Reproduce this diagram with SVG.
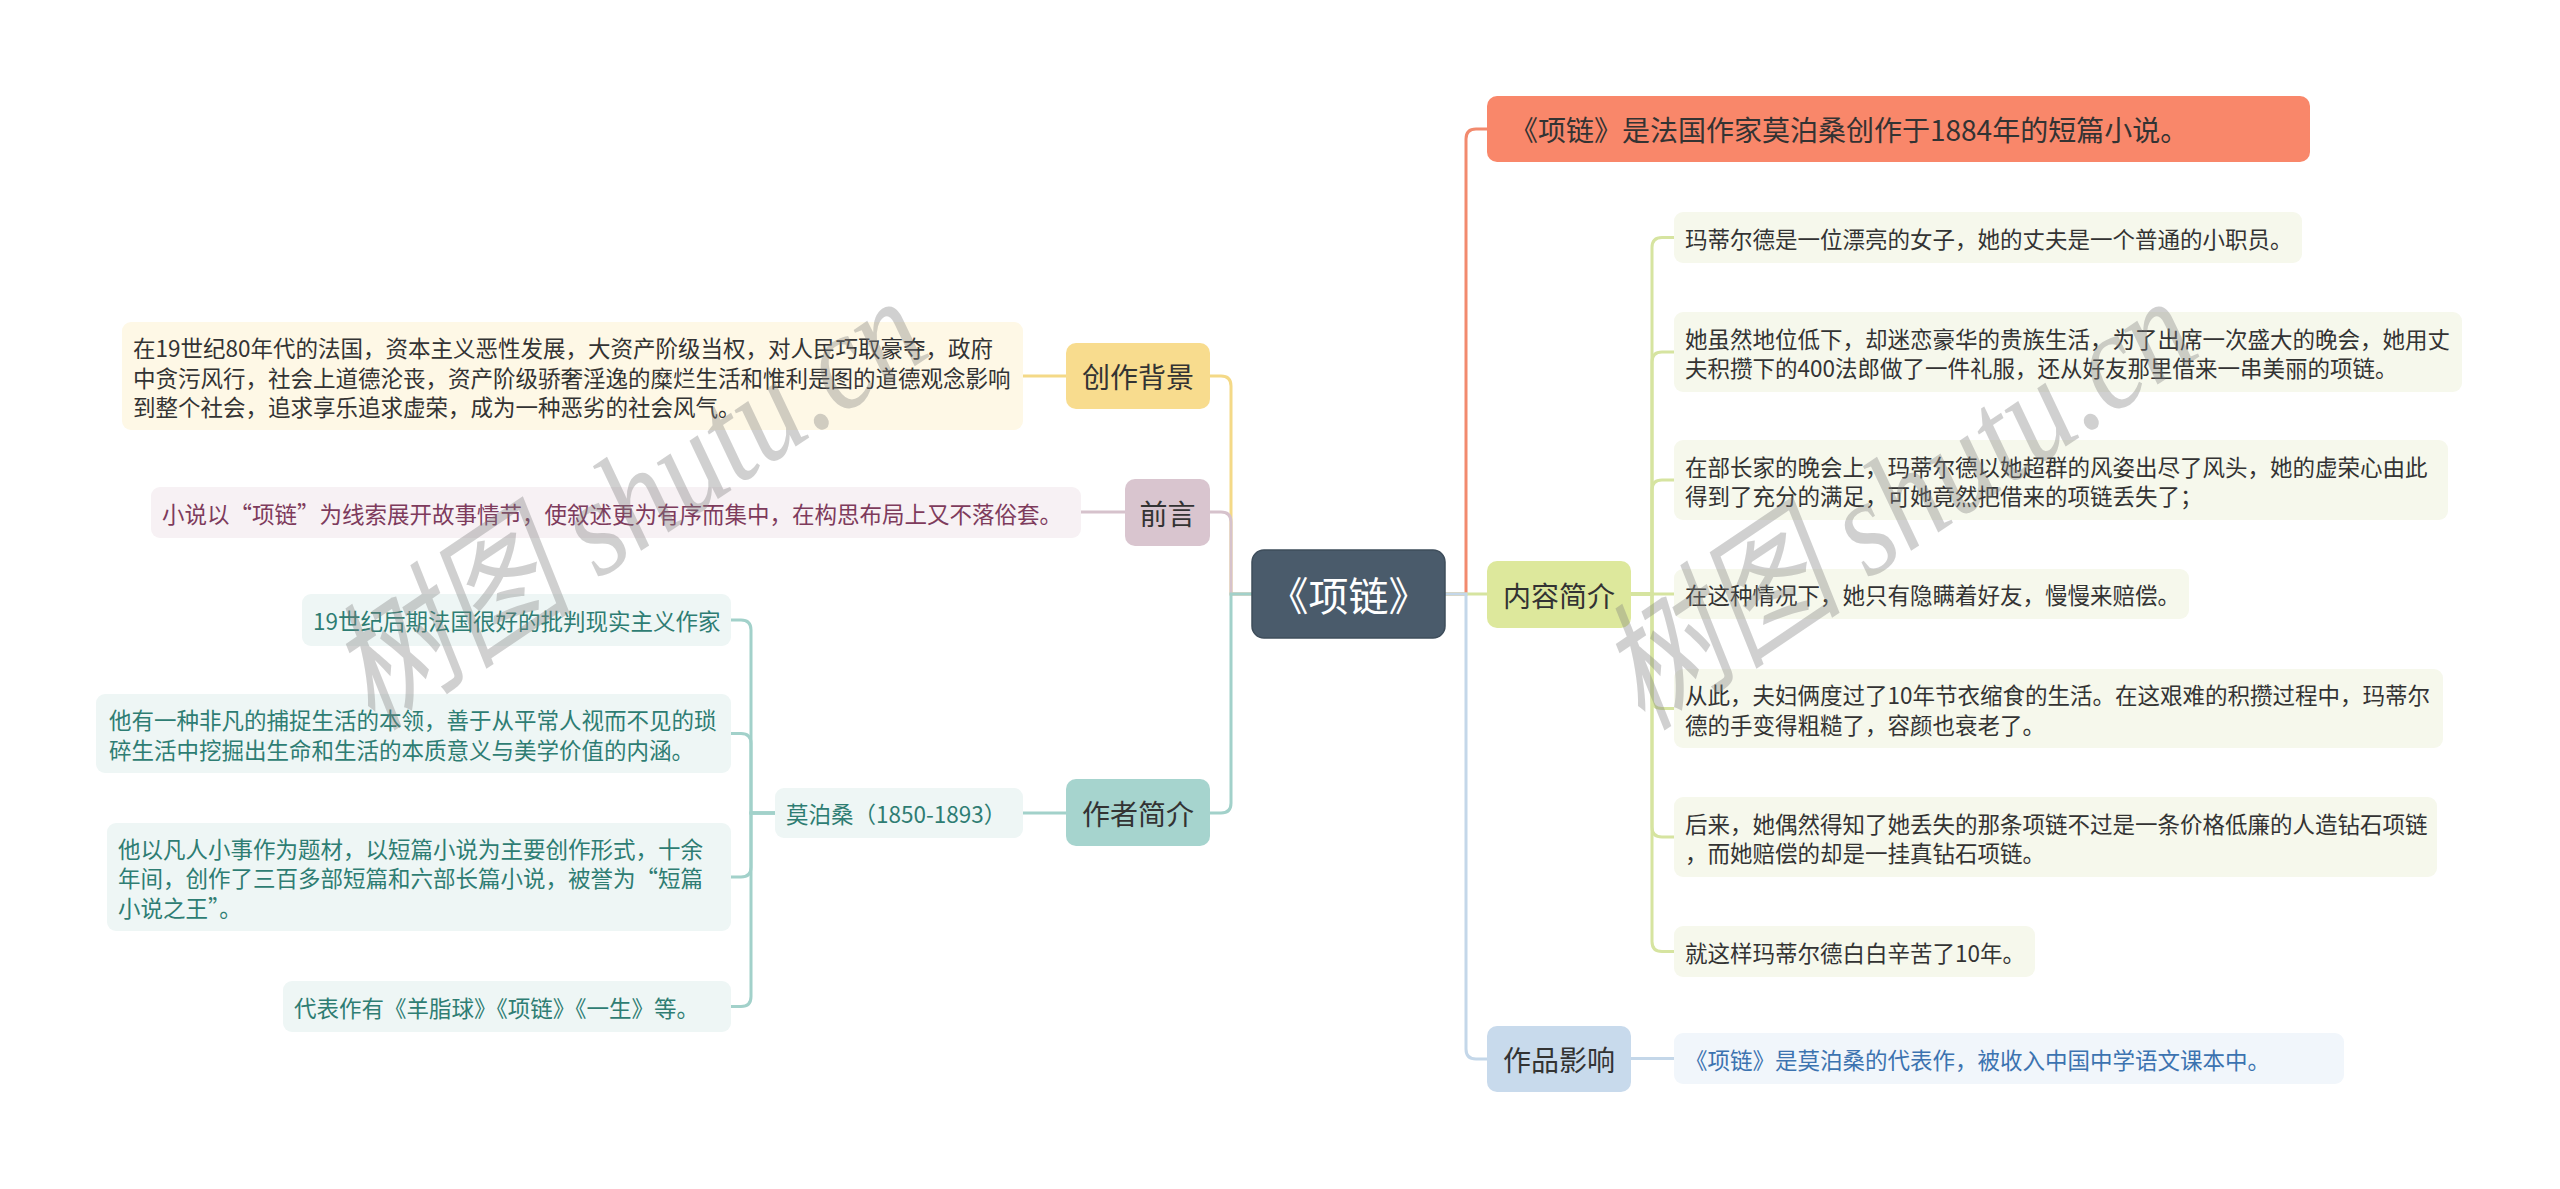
<svg xmlns="http://www.w3.org/2000/svg" width="2560" height="1189" viewBox="0 0 2560 1189">
<style>
  text { font-family: "Noto Sans CJK SC", "Noto Sans", sans-serif; dominant-baseline: central; }
  .root-t { font-size: 40px; fill: #ffffff; text-anchor: middle; }
  .l1 { font-size: 28px; fill: #333333; text-anchor: middle; }
  .l1s { font-size: 28px; fill: #333333; }
  .leaf { font-size: 22.5px; fill: #333333; }
  .t-pre { fill: #7e3b5c; }
  .t-aut { fill: #2e7d73; }
  .t-imp { fill: #3c73b0; }
  .conn path { fill: none; stroke-width: 3; stroke-linecap: round; }
  .c-yel { stroke: #f4d987; }
  .c-mau { stroke: #d6c2cc; }
  .c-tea { stroke: #a2d1ca; }
  .c-sal { stroke: #f28a6e; }
  .c-lim { stroke: #d6e4a0; }
  .c-blu { stroke: #c4d7e9; }
  .wm { font-family: "Liberation Serif", "Noto Sans CJK SC", serif; font-style: italic; font-size: 140px; fill: #808080; opacity: 0.36; dominant-baseline: alphabetic; }
</style>
<rect width="2560" height="1189" fill="#ffffff"/>

<g id="connectors" class="conn">
  <path class="c-yel" d="M1252 594 H1231 V386 Q1231 376 1221 376 H1210"/>
  <path class="c-mau" d="M1252 594 H1231 V522 Q1231 512 1221 512 H1210"/>
  <path class="c-tea" d="M1252 594 H1231 V803 Q1231 813 1221 813 H1210"/>
  <path class="c-sal" d="M1445 594 H1466 V139 Q1466 129 1476 129 H1487"/>
  <path class="c-lim" d="M1445 594 H1487"/>
  <path class="c-blu" d="M1445 594 H1466 V1049 Q1466 1059 1476 1059 H1487"/>
  <path class="c-yel" d="M1066 376 H1023"/>
  <path class="c-mau" d="M1125 512 H1081"/>
  <path class="c-tea" d="M1066 813 H1023"/>
  <path class="c-tea" d="M775 813 H751 V630 Q751 620 741 620 H731"/>
  <path class="c-tea" d="M775 813 H751 V743.5 Q751 733.5 741 733.5 H731"/>
  <path class="c-tea" d="M775 813 H751 V867 Q751 877 741 877 H731"/>
  <path class="c-tea" d="M775 813 H751 V996.5 Q751 1006.5 741 1006.5 H731"/>
  <path class="c-lim" d="M1630 594 H1652 V247.5 Q1652 237.5 1662 237.5 H1674"/>
  <path class="c-lim" d="M1630 594 H1652 V362 Q1652 352 1662 352 H1674"/>
  <path class="c-lim" d="M1630 594 H1652 V490 Q1652 480 1662 480 H1674"/>
  <path class="c-lim" d="M1630 594 H1674"/>
  <path class="c-lim" d="M1630 594 H1652 V698.5 Q1652 708.5 1662 708.5 H1674"/>
  <path class="c-lim" d="M1630 594 H1652 V827 Q1652 837 1662 837 H1674"/>
  <path class="c-lim" d="M1630 594 H1652 V941.5 Q1652 951.5 1662 951.5 H1674"/>
  <path class="c-blu" d="M1630 1058.5 H1674"/>
</g>

<g id="root">
  <rect x="1252" y="550" width="193" height="88" rx="12" fill="#4a5b6b" stroke="#3e4d5b" stroke-width="1.5"/>
  <text class="root-t" x="1348.5" y="594">《项链》</text>
</g>

<g id="node-chuangzuobeijing">
  <rect x="1066" y="343" width="144" height="66" rx="10" fill="#f8dc8e"/>
  <text class="l1" x="1138" y="376">创作背景</text>
</g>
<g id="node-qianyan">
  <rect x="1125" y="479" width="85" height="67" rx="10" fill="#d9c5cf"/>
  <text class="l1" x="1167.5" y="512.5">前言</text>
</g>
<g id="node-zuozhejianjie">
  <rect x="1066" y="779" width="144" height="67" rx="10" fill="#a6d4ce"/>
  <text class="l1" x="1138" y="812.5">作者简介</text>
</g>
<g id="node-summary">
  <rect x="1487" y="96" width="823" height="66" rx="10" fill="#f9876a"/>
  <text class="l1s" x="1510" y="129">《项链》是法国作家莫泊桑创作于1884年的短篇小说。</text>
</g>
<g id="node-neirongjianjie">
  <rect x="1487" y="561" width="144" height="67" rx="10" fill="#dde89c"/>
  <text class="l1" x="1559" y="594.5">内容简介</text>
</g>
<g id="node-zuopinyingxiang">
  <rect x="1487" y="1026" width="144" height="66" rx="10" fill="#c8daec"/>
  <text class="l1" x="1559" y="1059">作品影响</text>
</g>

<g id="leaf-beijing">
  <rect x="122" y="322" width="901" height="108" rx="9" fill="#fef8e6"/>
  <text class="leaf" x="133" y="347">在19世纪80年代的法国，资本主义恶性发展，大资产阶级当权，对人民巧取豪夺，政府</text>
  <text class="leaf" x="133" y="376.5">中贪污风行，社会上道德沦丧，资产阶级骄奢淫逸的糜烂生活和惟利是图的道德观念影响</text>
  <text class="leaf" x="133" y="406">到整个社会，追求享乐追求虚荣，成为一种恶劣的社会风气。</text>
</g>
<g id="leaf-qianyan">
  <rect x="151" y="487" width="930" height="51" rx="9" fill="#f7f1f4"/>
  <text class="leaf t-pre" x="162" y="512.5">小说以“项链”为线索展开故事情节，使叙述更为有序而集中，在构思布局上又不落俗套。</text>
</g>
<g id="leaf-mobosang">
  <rect x="775" y="788" width="248" height="50" rx="9" fill="#eef6f5"/>
  <text class="leaf t-aut" x="786" y="813">莫泊桑（1850-1893）</text>
</g>
<g id="leaf-author-1">
  <rect x="302" y="594" width="429" height="52" rx="9" fill="#eef6f5"/>
  <text class="leaf t-aut" x="313" y="620">19世纪后期法国很好的批判现实主义作家</text>
</g>
<g id="leaf-author-2">
  <rect x="96" y="694" width="635" height="79" rx="9" fill="#eef6f5"/>
  <text class="leaf t-aut" x="109" y="719">他有一种非凡的捕捉生活的本领，善于从平常人视而不见的琐</text>
  <text class="leaf t-aut" x="109" y="748.5">碎生活中挖掘出生命和生活的本质意义与美学价值的内涵。</text>
</g>
<g id="leaf-author-3">
  <rect x="107" y="823" width="624" height="108" rx="9" fill="#eef6f5"/>
  <text class="leaf t-aut" x="118" y="847.5">他以凡人小事作为题材，以短篇小说为主要创作形式，十余</text>
  <text class="leaf t-aut" x="118" y="877">年间，创作了三百多部短篇和六部长篇小说，被誉为“短篇</text>
  <text class="leaf t-aut" x="118" y="906.5">小说之王”。</text>
</g>
<g id="leaf-author-4">
  <rect x="283" y="981" width="448" height="51" rx="9" fill="#eef6f5"/>
  <text class="leaf t-aut" x="294" y="1006.5">代表作有《羊脂球》《项链》《一生》等。</text>
</g>

<g id="leaf-content-1">
  <rect x="1674" y="212" width="628" height="51" rx="9" fill="#f6f8ec"/>
  <text class="leaf" x="1685" y="237.5">玛蒂尔德是一位漂亮的女子，她的丈夫是一个普通的小职员。</text>
</g>
<g id="leaf-content-2">
  <rect x="1674" y="312" width="788" height="80" rx="9" fill="#f6f8ec"/>
  <text class="leaf" x="1685" y="337.5">她虽然地位低下，却迷恋豪华的贵族生活，为了出席一次盛大的晚会，她用丈</text>
  <text class="leaf" x="1685" y="367">夫积攒下的400法郎做了一件礼服，还从好友那里借来一串美丽的项链。</text>
</g>
<g id="leaf-content-3">
  <rect x="1674" y="440" width="774" height="80" rx="9" fill="#f6f8ec"/>
  <text class="leaf" x="1685" y="465.5">在部长家的晚会上，玛蒂尔德以她超群的风姿出尽了风头，她的虚荣心由此</text>
  <text class="leaf" x="1685" y="495">得到了充分的满足，可她竟然把借来的项链丢失了；</text>
</g>
<g id="leaf-content-4">
  <rect x="1674" y="569" width="515" height="50" rx="9" fill="#f6f8ec"/>
  <text class="leaf" x="1685" y="594">在这种情况下，她只有隐瞒着好友，慢慢来赔偿。</text>
</g>
<g id="leaf-content-5">
  <rect x="1674" y="669" width="769" height="79" rx="9" fill="#f6f8ec"/>
  <text class="leaf" x="1685" y="694">从此，夫妇俩度过了10年节衣缩食的生活。在这艰难的积攒过程中，玛蒂尔</text>
  <text class="leaf" x="1685" y="723.5">德的手变得粗糙了，容颜也衰老了。</text>
</g>
<g id="leaf-content-6">
  <rect x="1674" y="797" width="763" height="80" rx="9" fill="#f6f8ec"/>
  <text class="leaf" x="1685" y="822.5">后来，她偶然得知了她丢失的那条项链不过是一条价格低廉的人造钻石项链</text>
  <text class="leaf" x="1685" y="852">，而她赔偿的却是一挂真钻石项链。</text>
</g>
<g id="leaf-content-7">
  <rect x="1674" y="926" width="361" height="51" rx="9" fill="#f6f8ec"/>
  <text class="leaf" x="1685" y="951.5">就这样玛蒂尔德白白辛苦了10年。</text>
</g>
<g id="leaf-impact">
  <rect x="1674" y="1033" width="670" height="51" rx="9" fill="#f1f6fb"/>
  <text class="leaf t-imp" x="1685" y="1058.5">《项链》是莫泊桑的代表作，被收入中国中学语文课本中。</text>
</g>

<g id="watermark">
  <text class="wm" transform="translate(374,731) rotate(-34) scale(0.86,1)">树图 shutu.cn</text>
  <text class="wm" transform="translate(1644,731) rotate(-34) scale(0.86,1)">树图 shutu.cn</text>
</g>
</svg>
